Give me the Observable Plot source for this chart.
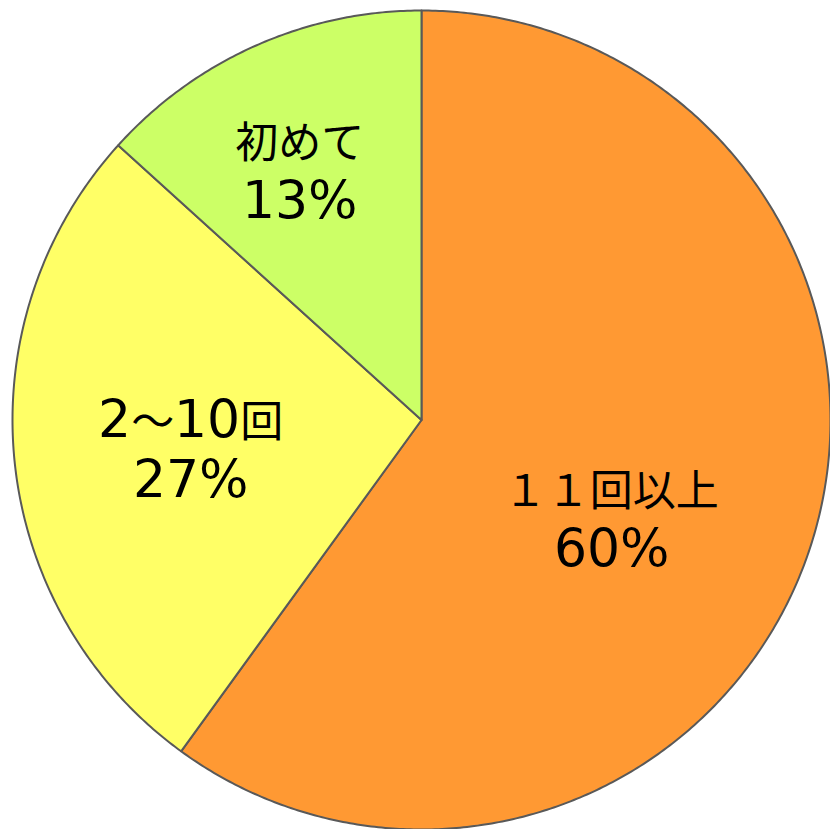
<!DOCTYPE html>
<html>
<head>
<meta charset="utf-8">
<script src="https://cdn.jsdelivr.net/npm/d3@7"></script>
<script src="https://cdn.jsdelivr.net/npm/@observablehq/plot@0.6"></script>
<style>
  html, body { margin: 0; padding: 0; background: #fff; }
  #chart svg { display: block; }
  @font-face {
    font-family: "WideDigits";
    src: local("DejaVu Sans"), local("DejaVuSans");
    size-adjust: 120%;
    unicode-range: U+0025, U+0030-0039;
  }
</style>
</head>
<body>
<div id="chart"></div>
<script>
// ---- data ----
const categories = ["１１回以上", "2〜10回", "初めて"];
const values = [60, 26.7, 13.3];
const labels = ["60%", "27%", "13%"];

// ---- style / layout (not data) ----
const colors = ["#FF9933", "#FFFF66", "#CCFF66"];
// label anchor in polar terms: angle (deg clockwise from 12 o'clock), radius fraction
const labelAngle = [117.0, 263.1, 334.1];
const labelRadius = [0.521, 0.568, 0.681];

const pie = d3.pie().sort(null).value(d => d.value)(
  categories.map((c, i) => ({category: c, value: values[i]}))
);

// Build slice outlines in unit space (x right, y up)
const slicePts = [];
pie.forEach(s => {
  const c = s.data.category;
  slicePts.push({category: c, x: 0, y: 0});
  const steps = Math.max(8, Math.ceil((s.endAngle - s.startAngle) / (Math.PI / 360)));
  for (let k = 0; k <= steps; k++) {
    const a = s.startAngle + (s.endAngle - s.startAngle) * k / steps;
    slicePts.push({category: c, x: Math.sin(a), y: Math.cos(a)});
  }
  slicePts.push({category: c, x: 0, y: 0});
});

const labelData = categories.map((c, i) => {
  const a = labelAngle[i] * Math.PI / 180;
  return {
    category: c,
    text: c + "\n" + labels[i],
    x: labelRadius[i] * Math.sin(a),
    y: labelRadius[i] * Math.cos(a)
  };
});

function draw() {
  const chart = Plot.plot({
    width: 830,
    height: 829,
    marginLeft: 12,
    marginRight: 0,
    marginTop: 10,
    marginBottom: 0,
    x: {domain: [-1, 1], axis: null},
    y: {domain: [-1, 1], axis: null},
    color: {domain: categories, range: colors, legend: false},
    style: {background: "white", overflow: "visible"},
    marks: [
      Plot.line(slicePts, {
        x: "x", y: "y", z: "category",
        fill: "category",
        stroke: "#595959",
        strokeWidth: 2,
        strokeLinejoin: "round",
        curve: "linear"
      }),
      Plot.text(labelData, {
        x: "x", y: "y", text: "text",
        fill: "black",
        fontSize: 43,
        lineHeight: 1.38,
        fontFamily: "WideDigits, 'Noto Sans CJK JP', 'Noto Sans', sans-serif",
        textAnchor: "middle"
      })
    ]
  });
  document.getElementById("chart").replaceChildren(chart);
}
draw();
if (document.fonts && document.fonts.load) {
  document.fonts.load("43px WideDigits", "0123456789%").then(draw, draw);
}
</script>
</body>
</html>
